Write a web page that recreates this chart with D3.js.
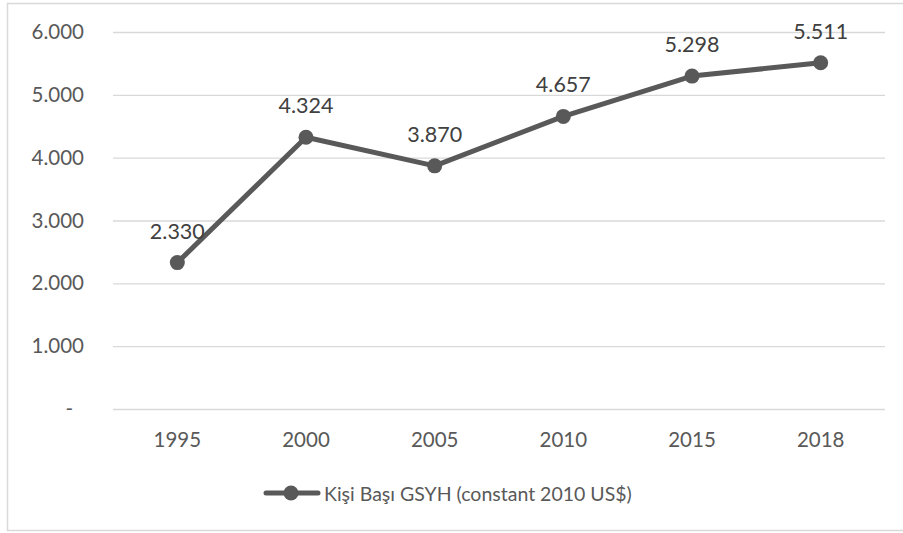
<!DOCTYPE html>
<html><head><meta charset="utf-8">
<script src="https://cdn.jsdelivr.net/npm/d3@7"></script>
<style>body{margin:0;background:#fff}svg{display:block}text{font-family:Lato,"Open Sans",sans-serif}</style>
</head><body><svg id="c" width="903" height="533"></svg>
<script>
const years = ["1995","2000","2005","2010","2015","2018"];
const values = [2330, 4324, 3870, 4657, 5298, 5511];
const yTicks = [0,1000,2000,3000,4000,5000,6000];
const seriesName = "Kişi Başı GSYH (constant 2010 US$)";

const svg = d3.select("#c");
svg.append("rect").attr("x",7.5).attr("y",3.5).attr("width",905).attr("height",527)
  .attr("fill","#fff").attr("stroke","#d9d9d9").attr("stroke-width",1.5);

const x = d3.scaleBand().domain(years).range([113,885]);
const y = d3.scaleLinear().domain([0,6000]).range([409,32]);
const fmt = v => v===0 ? "-" : d3.format(",")(v).replace(/,/g,".");

svg.append("g").selectAll("line").data(yTicks).join("line")
  .attr("x1",113).attr("x2",885).attr("y1",d=>y(d)+0.5).attr("y2",d=>y(d)+0.5)
  .attr("stroke","#d9d9d9").attr("stroke-width",1.3);

const yAxis = d3.axisLeft(y).tickValues(yTicks).tickFormat(fmt).tickSize(0).tickPadding(0);
const gy = svg.append("g").attr("transform","translate(84,0)").call(yAxis);
gy.select(".domain").remove();
gy.selectAll("text").attr("fill","#595959").style("font-size","20.5px").style("font-family","Lato,'Open Sans',sans-serif")
  .attr("dx",d=>d===0?"-11":"0");

const xAxis = d3.axisBottom(x).tickSize(0).tickPadding(0);
const gx = svg.append("g").attr("transform","translate(0,432)").call(xAxis);
gx.select(".domain").remove();
gx.selectAll("text").attr("fill","#595959").style("font-size","20.5px").style("font-family","Lato,'Open Sans',sans-serif");

const cx = d => x(d)+x.bandwidth()/2;
const line = d3.line().x((d,i)=>cx(years[i])).y(d=>y(d));
svg.append("path").datum(values).attr("d",line).attr("fill","none")
  .attr("stroke","#595959").attr("stroke-width",5).attr("stroke-linejoin","round");
svg.append("g").selectAll("circle").data(values).join("circle")
  .attr("cx",(d,i)=>cx(years[i])).attr("cy",d=>y(d)).attr("r",7.5).attr("fill","#595959");
svg.append("g").selectAll("text").data(values).join("text")
  .attr("x",(d,i)=>cx(years[i])).attr("y",d=>y(d)-24).attr("text-anchor","middle")
  .attr("fill","#404040").style("font-size","21.5px").text(fmt);

const lg = svg.append("g");
lg.append("line").attr("x1",266).attr("x2",318).attr("y1",493).attr("y2",493)
  .attr("stroke","#595959").attr("stroke-width",5).attr("stroke-linecap","round");
lg.append("circle").attr("cx",291).attr("cy",493).attr("r",7.5).attr("fill","#595959");
lg.append("text").attr("x",324).attr("y",501).attr("fill","#595959").style("font-size","19.5px").text(seriesName);
</script></body></html>
